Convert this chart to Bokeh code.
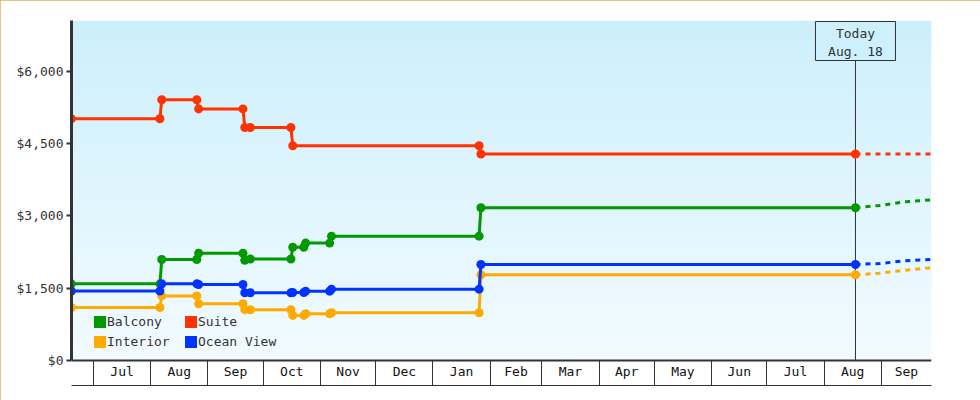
import numpy as np
import pandas as pd
from bokeh.plotting import figure
from bokeh.models import (Range1d, LinearAxis, FixedTicker, NumeralTickFormatter,
                          Legend, LegendItem)
from bokeh.core.properties import value
from bokeh.embed import file_html
from bokeh.resources import INLINE

# ---------------- data ----------------
series_names = ["Balcony", "Suite", "Interior", "Ocean View"]

suite_dates = ["2022-06-19", "2022-08-06", "2022-08-07", "2022-08-26", "2022-08-27",
               "2022-09-20", "2022-09-21", "2022-09-24", "2022-10-16", "2022-10-17",
               "2023-01-26", "2023-01-27", "2023-08-18"]
suite_prices = [5015, 5015, 5410, 5410, 5220, 5220, 4835, 4835, 4835, 4455, 4455, 4285, 4285]

balcony_dates = ["2022-06-19", "2022-08-06", "2022-08-07", "2022-08-26", "2022-08-27",
                 "2022-09-20", "2022-09-21", "2022-09-24", "2022-10-16", "2022-10-17",
                 "2022-10-23", "2022-10-24", "2022-11-06", "2022-11-07", "2023-01-26",
                 "2023-01-27", "2023-08-18"]
balcony_prices = [1590, 1590, 2095, 2095, 2225, 2225, 2080, 2105, 2105, 2350,
                  2350, 2435, 2435, 2580, 2580, 3170, 3170]

ocean_dates = balcony_dates
ocean_prices = [1442, 1442, 1590, 1590, 1577, 1577, 1405, 1405, 1405, 1410,
                1410, 1438, 1438, 1480, 1480, 1992, 1992]

interior_dates = balcony_dates
interior_prices = [1100, 1100, 1340, 1340, 1176, 1176, 1055, 1052, 1052, 935,
                   935, 969, 969, 990, 990, 1778, 1778]

forecast_dates = ["2023-08-18", "2023-08-31", "2023-09-14", "2023-09-28"]
suite_forecast = [4285, 4285, 4285, 4285]
balcony_forecast = [3170, 3216, 3292, 3334]
ocean_forecast = [1992, 2012, 2068, 2095]
interior_forecast = [1778, 1811, 1873, 1923]

today_date = "2023-08-18"
today_text = ["Today", "Aug. 18"]

y_ticks = [0, 1500, 3000, 4500, 6000]
month_starts = ["2022-07-01", "2022-08-01", "2022-09-01", "2022-10-01", "2022-11-01",
                "2022-12-01", "2023-01-01", "2023-02-01", "2023-03-01", "2023-04-01",
                "2023-05-01", "2023-06-01", "2023-07-01", "2023-08-01", "2023-09-01"]
month_labels = ["Jul", "Aug", "Sep", "Oct", "Nov", "Dec", "Jan", "Feb", "Mar",
                "Apr", "May", "Jun", "Jul", "Aug", "Sep"]

# ---------------- style ----------------
FONT = "DejaVu Sans Mono"
INK = "#333333"
colors = {"Balcony": "#009900", "Suite": "#ff3300", "Interior": "#ffaa00", "Ocean View": "#0033ff"}
grad_top = (204, 239, 252)
grad_bot = (242, 251, 255)

X_START = pd.Timestamp("2022-06-19 02:00")
X_END = pd.Timestamp("2023-09-28 05:00")
FRAME_H = 365
Y_MAX = 7054.0
Y_MIN = -519.0
K = (Y_MAX - Y_MIN) / FRAME_H  # data units per pixel


def ms(ts):
    return int(pd.Timestamp(ts).value // 10**6)


p = figure(width=980, height=400, output_backend="svg", toolbar_location=None,
           x_axis_location=None, y_axis_location=None,
           x_range=Range1d(ms(X_START), ms(X_END)), y_range=Range1d(Y_MIN, Y_MAX),
           min_border_left=71, min_border_right=49, min_border_top=20, min_border_bottom=15,
           background_fill_color="white", border_fill_color="white", outline_line_color=None)
p.grid.visible = False
p.styles = {"outline": "1px solid #e8a864", "outline-offset": "-1px"}

# gradient background of the value area
n = 340
t = np.linspace(0, 1, n)[:, None]
cols = np.array(grad_bot) + (np.array(grad_top) - np.array(grad_bot)) * t
img = np.empty((n, 1, 4), dtype=np.uint8)
img[:, 0, :3] = np.round(cols).astype(np.uint8)
img[:, 0, 3] = 255
p.image_rgba(image=[img.view(np.uint32).reshape(n, 1)], x=ms(X_START), y=0,
             dw=ms(X_END) - ms(X_START), dh=Y_MAX, level="image")

# today line
td = ms(today_date)
p.segment(x0=[td], y0=[0], x1=[td], y1=[Y_MAX - 30 * K], line_color=INK, line_width=1)

# series
def to_dt(lst):
    return pd.to_datetime(lst)

series = [
    ("Balcony", balcony_dates, balcony_prices, balcony_forecast),
    ("Suite", suite_dates, suite_prices, suite_forecast),
    ("Interior", interior_dates, interior_prices, interior_forecast),
    ("Ocean View", ocean_dates, ocean_prices, ocean_forecast),
]
for name, d, v, fc in series:
    c = colors[name]
    p.line(to_dt(forecast_dates), fc, line_color=c, line_width=3, line_dash="5 5")
    p.line(to_dt(d), v, line_color=c, line_width=3)
    p.scatter(to_dt(d), v, marker="circle", size=9, fill_color=c, line_color=None)

# today box
p.rect(x=[td], y=[Y_MAX - 20.5 * K], width=80, height=39, width_units="screen",
       height_units="screen", fill_color="#cdf0fc", line_color=INK, line_width=1)
p.text(x=[td, td], y=[Y_MAX - 13 * K, Y_MAX - 30.5 * K], text=today_text,
       text_font=value(FONT), text_font_size="13px", text_color=INK,
       text_align="center", text_baseline="middle")

# y axis
yaxis = LinearAxis(ticker=FixedTicker(ticks=y_ticks), formatter=NumeralTickFormatter(format="$0,0"),
                   bounds=(0, Y_MAX), axis_line_width=3, axis_line_color=INK,
                   major_tick_out=5, major_tick_in=0, major_tick_line_width=2,
                   major_tick_line_color=INK, minor_tick_line_color=None,
                   major_label_standoff=3, major_label_text_font=FONT,
                   major_label_text_font_size="13px", major_label_text_color=INK)
p.add_layout(yaxis, "left")

# x axis: month cells
bounds_ms = [ms(m) for m in month_starts]
centers = []
overrides = {}
for i, lab in enumerate(month_labels):
    a = bounds_ms[i]
    b = bounds_ms[i + 1] if i + 1 < len(bounds_ms) else ms(X_END)
    cm = (a + b) // 2
    centers.append(cm)
    overrides[cm] = lab

xaxis = LinearAxis(fixed_location=0, ticker=FixedTicker(ticks=centers, minor_ticks=bounds_ms),
                   major_label_overrides=overrides, major_tick_line_color=None,
                   major_tick_out=0, major_tick_in=0, minor_tick_out=25, minor_tick_in=0,
                   minor_tick_line_color=INK, minor_tick_line_width=1,
                   axis_line_width=2, axis_line_color=INK, major_label_standoff=-21,
                   major_label_text_font=FONT, major_label_text_font_size="13px",
                   major_label_text_color="#111111")
p.add_layout(xaxis, "below")

xaxis2 = LinearAxis(ticker=FixedTicker(ticks=[]), major_tick_out=0, major_tick_in=0,
                    minor_tick_out=0, minor_tick_in=0, major_label_standoff=0,
                    axis_line_width=1, axis_line_color=INK)
p.add_layout(xaxis2, "below")

# legend (zero-area proxies so the swatches render)
items = {}
for name in series_names:
    r = p.quad(left=[ms(X_START)], right=[ms(X_START)], top=[0], bottom=[0],
               fill_color=colors[name], line_color=None)
    items[name] = LegendItem(label=name, renderers=[r])
legend = Legend(items=[items["Balcony"], items["Interior"], items["Suite"], items["Ocean View"]],
                location=(21, 36), orientation="vertical", ncols=2,
                glyph_width=15, glyph_height=15, label_standoff=0, spacing=5,
                padding=0, margin=0, border_line_color=None, background_fill_alpha=0,
                label_text_font=FONT, label_text_font_size="13px", label_text_color=INK,
                label_height=15, label_width=71)
p.add_layout(legend)

open("out.html", "w").write(file_html(p, INLINE))
